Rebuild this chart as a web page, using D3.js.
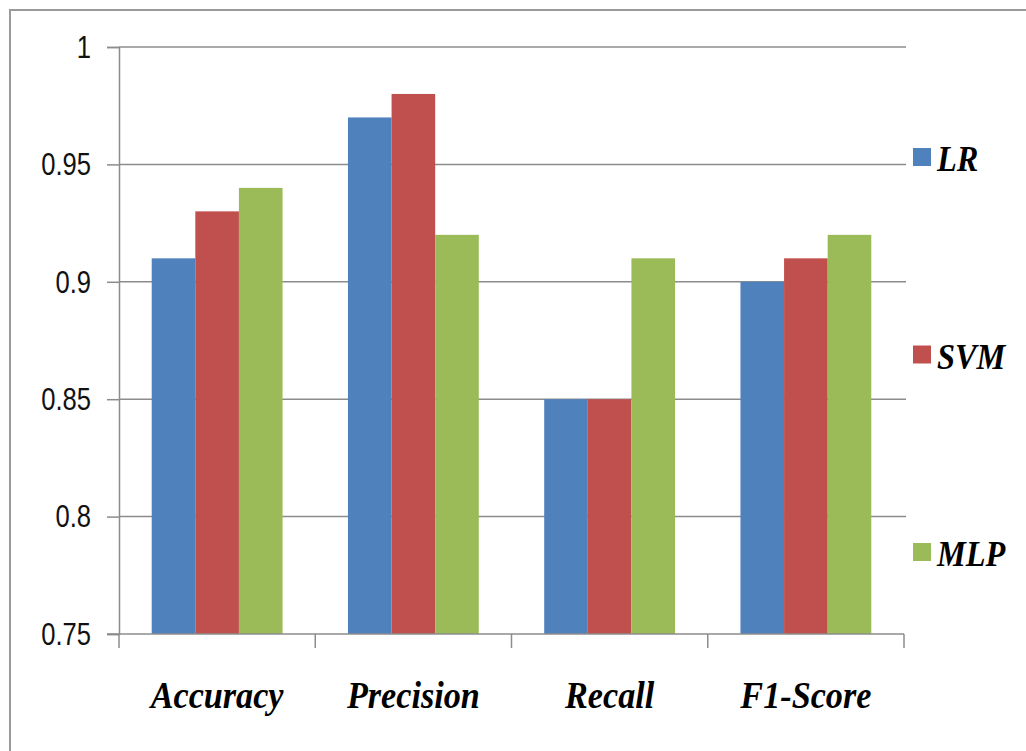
<!DOCTYPE html>
<html>
<head>
<meta charset="utf-8">
<script src="https://cdn.jsdelivr.net/npm/d3@7"></script>
<style>
  html, body { margin: 0; padding: 0; background: #fff; }
  svg { display: block; }
</style>
</head>
<body>
<svg id="chart" width="1026" height="751"></svg>
<script>
// Metric categories and model scores
const categories = ["Accuracy", "Precision", "Recall", "F1-Score"];
const seriesNames = ["LR", "SVM", "MLP"];
const lrValues  = [0.91, 0.97, 0.85, 0.90];
const svmValues = [0.93, 0.98, 0.85, 0.91];
const mlpValues = [0.94, 0.92, 0.91, 0.92];
const yTicks = [0.75, 0.8, 0.85, 0.9, 0.95, 1];
const yTickLabels = ["0.75", "0.8", "0.85", "0.9", "0.95", "1"];
const colors = ["#4F81BD", "#C0504D", "#9BBB59"];

const series = [lrValues, svmValues, mlpValues];

const svg = d3.select("#chart");
const W = 1026, H = 751;

// outer chart frame
svg.append("rect")
  .attr("x", 10).attr("y", 10)
  .attr("width", W + 20).attr("height", H + 20)
  .attr("fill", "#fff")
  .attr("stroke", "#9a9a9a")
  .attr("stroke-width", 2);

const plot = { left: 119, right: 904, top: 47, bottom: 634 };

const x = d3.scaleBand()
  .domain(categories)
  .range([plot.left, plot.right])
  .paddingInner(0).paddingOuter(0);

const x1 = d3.scaleBand()
  .domain(seriesNames)
  .range([0, x.bandwidth()])
  .paddingInner(0)
  .paddingOuter(0.75);

const y = d3.scaleLinear()
  .domain([0.75, 1])
  .range([plot.bottom, plot.top]);

const gridColor = "#8c8c8c";

// horizontal gridlines
svg.append("g")
  .selectAll("line")
  .data(yTicks.filter(t => t > 0.75))
  .join("line")
  .attr("x1", plot.left).attr("x2", plot.right + 2)
  .attr("y1", d => y(d)).attr("y2", d => y(d))
  .attr("stroke", gridColor)
  .attr("stroke-width", 1.5);

// bars
const groups = svg.append("g")
  .selectAll("g")
  .data(categories)
  .join("g")
  .attr("transform", d => `translate(${x(d)},0)`);

groups.selectAll("rect")
  .data((c, i) => seriesNames.map((s, j) => ({ s, v: series[j][i], j })))
  .join("rect")
  .attr("x", d => x1(d.s))
  .attr("width", x1.bandwidth())
  .attr("y", d => y(d.v))
  .attr("height", d => y(0.75) - y(d.v))
  .attr("fill", d => colors[d.j]);

// y axis
const yAxis = d3.axisLeft(y)
  .tickValues(yTicks)
  .tickFormat((d, i) => yTickLabels[i])
  .tickSize(12)
  .tickPadding(16);

const gy = svg.append("g")
  .attr("transform", `translate(${plot.left},0)`)
  .call(yAxis);
gy.select(".domain").attr("stroke", gridColor).attr("stroke-width", 1.5);
gy.selectAll(".tick line").attr("stroke", gridColor).attr("stroke-width", 1.5);

// condensed tick labels
const tickSX = 0.8;
gy.selectAll(".tick text")
  .attr("fill", "#111")
  .attr("x", -28 / tickSX)
  .attr("transform", `scale(${tickSX},1)`)
  .style("font-family", "'Liberation Sans', Arial, sans-serif")
  .style("font-size", "32px");

// x axis
const xTickPositions = categories.map(c => x(c)).concat([plot.right]);
const gx = svg.append("g");
gx.append("line")
  .attr("x1", plot.left - 12).attr("x2", plot.right)
  .attr("y1", plot.bottom).attr("y2", plot.bottom)
  .attr("stroke", gridColor).attr("stroke-width", 1.5);
gx.selectAll("line.tk")
  .data(xTickPositions)
  .join("line")
  .attr("class", "tk")
  .attr("x1", d => d).attr("x2", d => d)
  .attr("y1", plot.bottom).attr("y2", plot.bottom + 14)
  .attr("stroke", gridColor).attr("stroke-width", 1.5);

const catSX = 0.9;
gx.selectAll("text")
  .data(categories)
  .join("text")
  .attr("x", d => (x(d) + x.bandwidth() / 2) / catSX)
  .attr("y", 708)
  .attr("transform", `scale(${catSX},1)`)
  .attr("text-anchor", "middle")
  .attr("fill", "#000")
  .style("font-family", "'Liberation Serif', 'Times New Roman', serif")
  .style("font-weight", "bold")
  .style("font-style", "italic")
  .style("font-size", "38px")
  .text(d => d);

// legend
const legendY = d3.scalePoint()
  .domain(seriesNames)
  .range([157, 552]);

const legend = svg.append("g")
  .selectAll("g")
  .data(seriesNames)
  .join("g")
  .attr("transform", d => `translate(913,${legendY(d)})`);

legend.append("rect")
  .attr("x", 0).attr("y", -9)
  .attr("width", 18).attr("height", 18)
  .attr("fill", (d, i) => colors[i]);

legend.append("text")
  .attr("x", 24 / 0.9).attr("y", 14)
  .attr("transform", "scale(0.9,1)")
  .attr("fill", "#000")
  .style("font-family", "'Liberation Serif', 'Times New Roman', serif")
  .style("font-weight", "bold")
  .style("font-style", "italic")
  .style("font-size", "36px")
  .text(d => d);
</script>
</body>
</html>
